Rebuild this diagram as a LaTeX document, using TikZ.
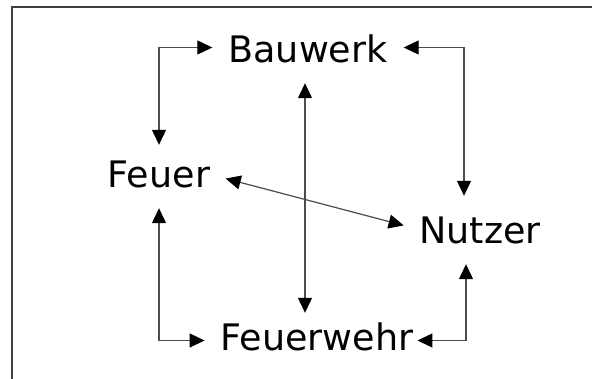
\documentclass[tikz,border=0pt]{standalone}
\usepackage{fontspec}
\setmainfont{DejaVu Sans}
\usetikzlibrary{arrows.meta,positioning}

\begin{document}
\begin{tikzpicture}[x=1pt, y=1pt,
    >={Triangle[length=15pt,width=14pt,color=black]},
    box/.style={font=\fontsize{36.5}{40}\selectfont, inner sep=0pt,
        text height=27pt, text depth=0pt, anchor=base},
    link/.style={<->, draw=black!70, line width=1.2pt,
        shorten <=16pt, shorten >=16pt}]

        \useasboundingbox (0,0) rectangle (592,378);
        % frame
        \draw[black!75, line width=1.2pt] (12,-5) -- (12,371) -- (597,371);

        % the four parties
        \node[box] (bauwerk) at (308,315) {Bauwerk};
        \node[box] (feuer) at (159,190) {Feuer};
        \node[box] (nutzer) at (480,135) {Nutzer};
        \node[box] (feuerwehr) at (317,28) {Feuerwehr};

        % outer ring
        \draw[link] ([yshift=2pt]bauwerk.west) -| (feuer.north);
        \draw[link, shorten >=20pt] ([yshift=2pt]bauwerk.east) -| ([xshift=-16pt]nutzer.north);
        \draw[link, shorten >=20pt] ([yshift=-4pt]feuerwehr.west) -| (feuer.south);
        \draw[link, shorten <=4pt, shorten >=21pt] ([yshift=-4pt]feuerwehr.east) -| ([xshift=-14pt]nutzer.south);

        % cross links
        \draw[link, shorten <=20pt, shorten >=10pt] ([xshift=-3pt]bauwerk.south) -- ([xshift=-3pt]bauwerk.south |- feuerwehr.north);
        \draw[link] (feuer.east) -- (nutzer.west);

    \end{tikzpicture}
\end{document}
